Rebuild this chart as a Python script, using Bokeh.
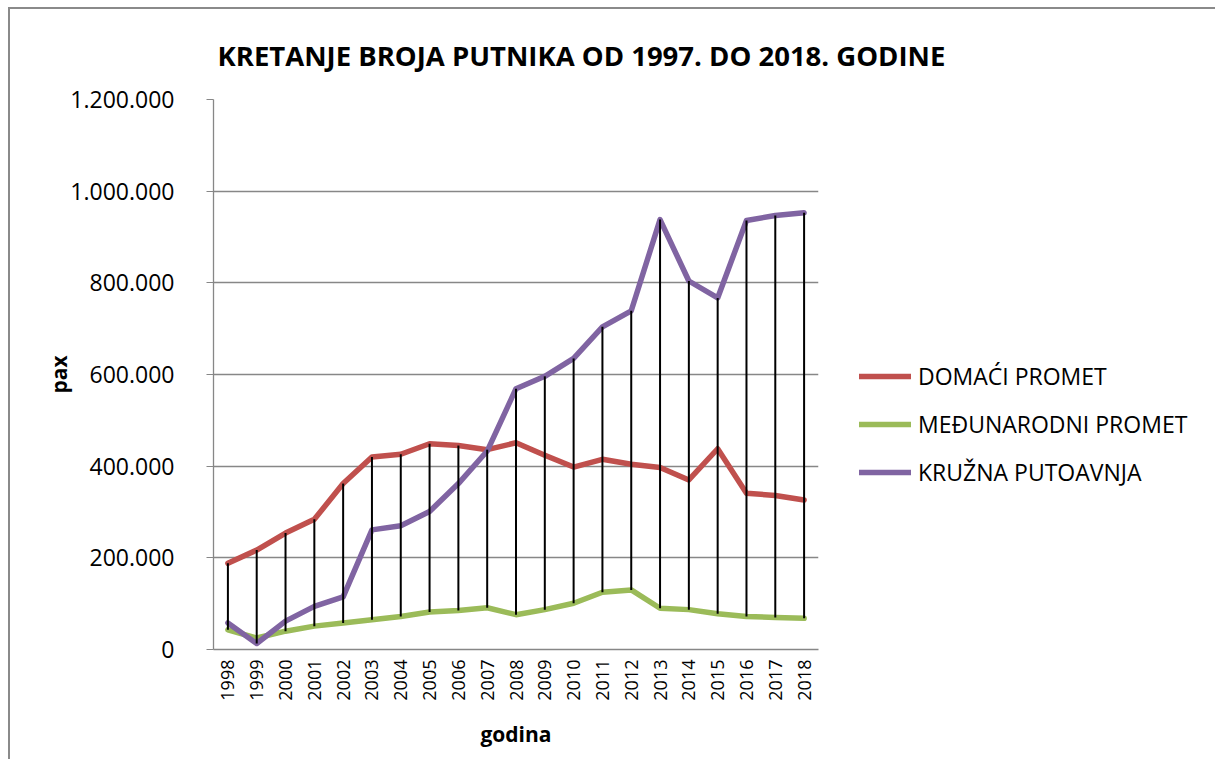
import numpy as np
from bokeh.plotting import figure
from bokeh.models import FixedTicker, Range1d, FactorRange, Legend, LegendItem, Title
from bokeh.embed import file_html
from bokeh.resources import INLINE

years = ["1998", "1999", "2000", "2001", "2002", "2003", "2004", "2005", "2006", "2007",
         "2008", "2009", "2010", "2011", "2012", "2013", "2014", "2015", "2016", "2017", "2018"]

domaci = [188000, 217000, 254000, 284000, 362000, 420000, 426000, 449000, 445000, 436000,
          451000, 424000, 398000, 415000, 404000, 397000, 370000, 438000, 341000, 336000, 326000]
medjunarodni = [43000, 25000, 40000, 51000, 58000, 65000, 72000, 82000, 85000, 91000,
                76000, 87000, 101000, 125000, 130000, 90000, 87000, 78000, 72000, 70000, 68000]
kruzna = [58000, 13000, 62000, 94000, 115000, 261000, 270000, 301000, 362000, 433000,
          569000, 596000, 635000, 704000, 739000, 938000, 804000, 767000, 936000, 947000, 953000]

ytick_values = [0, 200000, 400000, 600000, 800000, 1000000, 1200000]
ytick_labels = ["0", "200.000", "400.000", "600.000", "800.000", "1.000.000", "1.200.000"]

series_names = ["DOMAĆI PROMET", "MEĐUNARODNI PROMET", "KRUŽNA PUTOAVNJA"]
series_colors = ["#C0504D", "#9BBB59", "#8064A2"]

FONT = "Open Sans"

p = figure(frame_width=605, frame_height=550,
           x_range=FactorRange(factors=years),
           y_range=Range1d(0, 1200000),
           output_backend="svg", toolbar_location=None,
           min_border_left=203, min_border_right=0,
           min_border_top=90, min_border_bottom=110,
           styles={"border-left": "2px solid #8a8a8a", "border-top": "2px solid #8a8a8a",
                   "margin-left": "8px", "margin-top": "7px"})

p.outline_line_color = None
p.background_fill_color = "white"
p.border_fill_color = "white"

p.xgrid.visible = False
p.ygrid.grid_line_color = "#878787"
p.ygrid.grid_line_width = 1.3

p.yaxis.ticker = FixedTicker(ticks=ytick_values)
p.yaxis.major_label_overrides = dict(zip(ytick_values, ytick_labels))
p.yaxis.minor_tick_line_color = None
p.yaxis.major_tick_out = 7
p.yaxis.major_tick_in = 0
p.yaxis.major_tick_line_color = "#878787"
p.yaxis.axis_line_color = "#878787"
p.yaxis.axis_line_width = 1.3
p.yaxis.major_label_standoff = 32
p.yaxis.major_label_text_font = FONT
p.yaxis.major_label_text_font_size = "23px"
p.yaxis.major_label_text_color = "black"
p.yaxis.axis_label = "pax"
p.yaxis.axis_label_text_font = FONT
p.yaxis.axis_label_text_font_size = "21px"
p.yaxis.axis_label_text_font_style = "bold"
p.yaxis.axis_label_text_color = "black"
p.yaxis.axis_label_standoff = -6

p.xaxis.major_label_orientation = np.pi / 2
p.xaxis.major_tick_line_color = None
p.xaxis.major_tick_out = 0
p.xaxis.major_tick_in = 0
p.xaxis.axis_line_color = "#878787"
p.xaxis.axis_line_width = 1.3
p.xaxis.major_label_standoff = 10
p.xaxis.major_label_text_font = FONT
p.xaxis.major_label_text_font_size = "18px"
p.xaxis.major_label_text_color = "black"
p.xaxis.axis_label = "godina"
p.xaxis.axis_label_text_font = FONT
p.xaxis.axis_label_text_font_size = "21px"
p.xaxis.axis_label_text_font_style = "bold"
p.xaxis.axis_label_text_color = "black"
p.xaxis.axis_label_standoff = 16

renderers = []
for vals, col in zip([domaci, medjunarodni, kruzna], series_colors):
    r = p.line(years, vals, line_color=col, line_width=5.5, line_join="round", line_cap="round")
    renderers.append(r)

hi = np.max(np.array([domaci, medjunarodni, kruzna]), axis=0)
lo = np.min(np.array([domaci, medjunarodni, kruzna]), axis=0)
p.segment(x0=years, y0=lo, x1=years, y1=hi, line_color="black", line_width=2)

legend = Legend(items=[LegendItem(label=n, renderers=[r]) for n, r in zip(series_names, renderers)],
                location=(41, 161), orientation="vertical",
                glyph_width=52, glyph_height=32, label_height=32, spacing=16,
                padding=0, margin=0, label_standoff=7,
                border_line_color=None, background_fill_alpha=0,
                label_text_font=FONT, label_text_font_size="23px", label_text_color="black")
p.add_layout(legend, "right")

title = Title(text="KRETANJE  BROJA PUTNIKA OD 1997. DO 2018. GODINE",
              align="left", offset=4, standoff=51,
              text_font=FONT, text_font_size="27.5px", text_font_style="bold", text_color="black")
p.add_layout(title, "above")

open("out.html", "w").write(file_html(p, INLINE))
